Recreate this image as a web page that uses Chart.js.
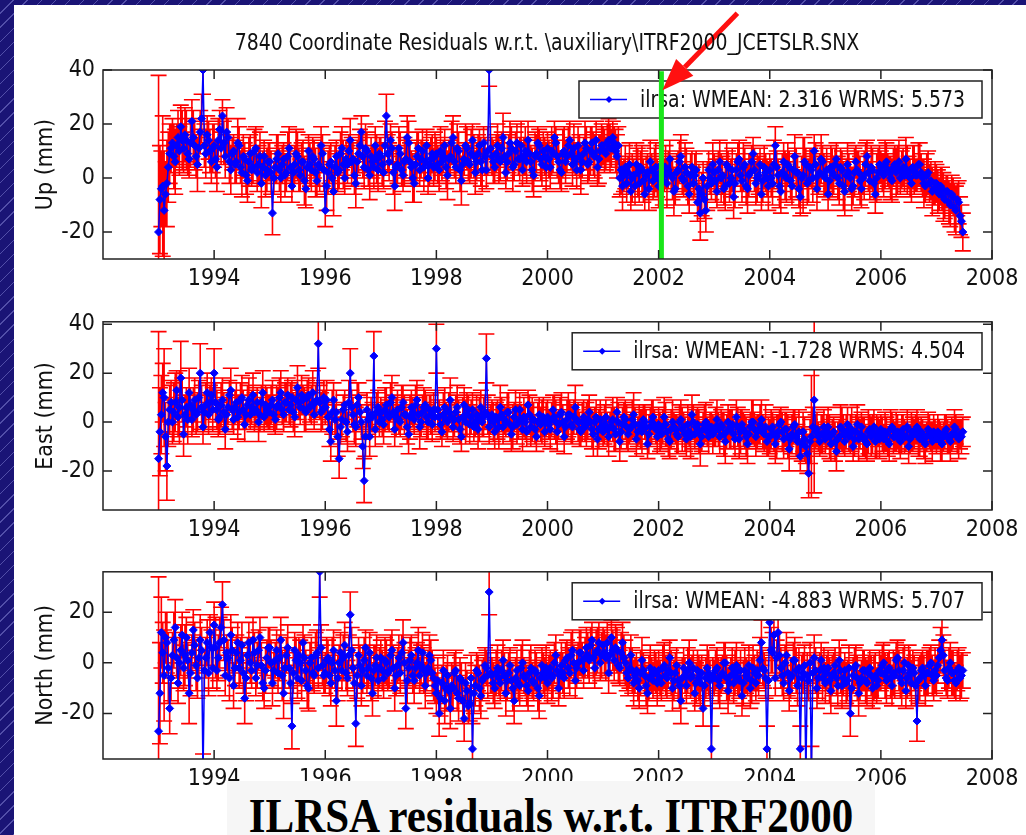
<!DOCTYPE html>
<html>
<head>
<meta charset="utf-8">
<title>ILRSA residuals w.r.t. ITRF2000</title>
<script src="https://cdn.jsdelivr.net/npm/chart.js@4.4.1/dist/chart.umd.min.js"></script>
<style>
  html, body { margin: 0; padding: 0; }
  body {
    width: 1026px; height: 835px; overflow: hidden; position: relative;
    background-color: #1a1476;
    background-image: repeating-linear-gradient(135deg, transparent 0 9px, rgba(150,150,230,0.45) 9px 10px);
  }
  #sheet { position: absolute; left: 14px; top: 5px; width: 1012px; height: 830px; background: #fff; }
  #sheet canvas { position: absolute; left: 0; }
  #plot-title {
    position: absolute; left: 0; top: 26px; width: 1066px; text-align: center;
    font: 21px 'Liberation Sans Narrow', 'DejaVu Sans Condensed', 'Liberation Sans', sans-serif;
    line-height: 24px; color: #111; white-space: nowrap;
    transform: scaleY(1.12); transform-origin: 50% 18px;
  }
  #caption { position: absolute; left: 213px; top: 776px; width: 648px; height: 54px; background: #f6f6f6; }
  #caption div {
    position: absolute; left: 0; top: 14px; width: 100%; text-align: center;
    font: bold 43px 'Liberation Serif', 'Times New Roman', serif; line-height: 46px; color: #000;
    transform: scaleY(1.12); transform-origin: 50% 37px; white-space: nowrap;
  }
</style>
</head>
<body>
<div id="sheet">
  <canvas id="upChart" width="1012" height="295" style="top:0"></canvas>
  <canvas id="eastChart" width="1012" height="250" style="top:295px"></canvas>
  <canvas id="northChart" width="1012" height="250" style="top:545px"></canvas>
  <div id="plot-title">7840 Coordinate Residuals w.r.t. \auxiliary\ITRF2000_JCETSLR.SNX</div>
  <div id="caption"><div>ILRSA residuals w.r.t. ITRF2000</div></div>
</div>
<script>
// one solution every 0.025 yr starting 1993.0 (40 per row = one year)
const firstEpoch = 1993.0;
const epochStep = 0.025;

const yearTicks = [1994, 1996, 1998, 2000, 2002, 2004, 2006, 2008];
const upTicks = [-20, 0, 20, 40];
const eastTicks = [-20, 0, 20, 40];
const northTicks = [-20, 0, 20];

const upLegend = "ilrsa: WMEAN: 2.316 WRMS: 5.573";
const eastLegend = "ilrsa: WMEAN: -1.728 WRMS: 4.504";
const northLegend = "ilrsa: WMEAN: -4.883 WRMS: 5.707";

// epoch of the marked solution change
const markYear = 2002.05;
const markTop = 39.5;
const arrowTipY = 32.5;

const up = [
  -20, -8, -4, -3, -12, -6, -2, 4, 9, 11, 13, 8, 6, 12, 15, 10, 19, 14, 11, 16, 14, 9, 7, 13, 21, 15, 12, 8, 5, 11, 17, 22, 40, 12, 9, 16, 14, 10, 6, 11,
  12, 7, 4, 14, 18, 11, 23, 13, 8, 17, 15, 6, 3, 9, 10, 5, 6, 13, 12, 4, 2, 8, 7, 1, -1, 6, 9, 3, 4, 10, 11, 2, 5, 8, -2, 4, 8, 1, 3, 6,
  6, 2, -13, 0, 4, 7, 9, 3, 0, 5, 7, 1, 2, 8, 11, 4, -3, 2, 5, 9, 8, 3, 1, 6, 6, -1, -4, 4, 10, 5, 3, 8, 7, 2, -1, 5, 4, 12, 9, 3,
  -12, -3, 2, 5, 6, 0, -5, 4, 8, 2, 3, 9, 11, 5, 0, 7, 5, 10, 14, 6, 7, 1, -2, 6, 9, 12, 17, 8, 4, 11, 10, 3, 1, 8, 6, 4, 12, 7, 3, 9,
  8, 5, 2, 12, 23, 9, 6, 14, 11, 2, -3, 4, 5, 11, 9, 3, 1, 6, 7, 15, 13, 6, 4, 0, -2, 5, 8, 11, 3, 7, 10, 4, 6, 12, 0, 5, 7, 9, 4, 8,
  9, 5, 3, 10, 6, 8, 12, 4, 1, 7, 8, 13, 15, 6, 4, 11, 10, 3, -1, 5, 7, 12, 11, 6, 5, 9, 14, 8, 2, 6, 9, 12, 6, 3, 13, 8, 3, 10, 40, 11,
  8, 6, 4, 9, 12, 7, 6, 11, 15, 8, 2, 6, 9, 13, 11, 4, 5, 10, 13, 7, 7, 12, 3, 8, 10, 6, 14, 9, 6, 3, 1, 8, 9, 13, 12, 7, 5, 10, 8, 4,
  11, 7, 4, 10, 9, 15, 13, 8, 6, 3, 2, 9, 10, 6, 8, 12, 14, 9, 5, 11, 7, 3, 12, 8, 3, 6, 9, 13, 11, 5, 6, 10, 13, 9, 8, 14, 4, 7, 10, 12,
  12, 10, 9, 13, 14, 11, 11, 15, 13, 10, 8, 12, 0, 3, -3, 1, 4, -2, 2, 5, -5, 0, 1, -3, 5, 2, -2, 4, 3, -1, -6, 1, 2, -4, 6, 3, -1, 2, 4, 0,
  -3, 2, 5, -1, 1, 4, -2, 3, 7, 1, 0, -5, -4, 2, 3, 6, 8, 0, -1, 4, 2, -3, -6, 1, 4, -2, 1, 3, -9, -4, -13, -6, 0, -8, -12, -3, 3, 0, -2, 5,
  2, -1, -5, 3, 6, 0, 1, -4, -3, 5, 4, -2, 0, 3, -7, -2, 3, 6, 7, 1, -1, 4, 5, -3, -4, 1, 2, 6, 9, 3, -2, 0, 1, 5, -6, -1, 4, 2, 0, -3,
  3, 0, -2, 5, 12, 4, 1, -3, -5, 2, 6, 1, 0, 5, 4, -1, -3, 3, 8, 2, 2, -4, -7, 0, 1, 6, 5, -2, -1, 4, 3, 0, 10, 5, -4, 1, 2, 7, 6, 1,
  0, 3, -6, -1, 4, 2, 1, 5, 7, 0, -2, 4, 3, -3, -5, 1, 5, 2, 0, -4, -3, 2, 6, 3, 2, -1, -4, 0, 1, 5, 8, 2, -1, 4, 3, -2, -6, 0, 2, 5,
  4, 2, 1, 5, 6, 3, 2, 0, -1, 4, 5, 2, 3, 6, 0, 3, 4, 1, 7, 3, 2, 0, -2, 4, 3, 1, 1, 5, 5, 2, 0, -2, -3, 1, 2, -2, -1, -5, -4, -2,
  -2, -5, -6, -3, -4, -7, -8, -5, -5, -9, -10, -6, -7, -11, -12, -8, -9, -14, -16, -20
];
const upErr = [
  58, 20, 14, 26, 22, 12, 16, 13, 11, 9, 9, 12, 12, 8, 10, 9, 8, 11, 9, 10, 11, 8, 7, 9, 8, 10, 9, 8, 10, 7, 8, 9, 9, 8, 9, 7, 7, 8, 8, 9,
  8, 7, 9, 8, 7, 6, 6, 8, 8, 9, 7, 8, 9, 6, 6, 7, 8, 9, 7, 6, 9, 8, 6, 7, 8, 9, 7, 6, 6, 8, 8, 7, 7, 9, 9, 6, 6, 8, 8, 7,
  7, 8, 8, 6, 6, 9, 7, 8, 9, 7, 6, 8, 7, 9, 8, 6, 6, 7, 7, 9, 9, 8, 6, 7, 8, 9, 7, 6, 6, 8, 8, 7, 7, 9, 6, 8, 9, 7, 7, 8,
  6, 9, 8, 7, 7, 6, 9, 8, 6, 7, 7, 8, 8, 9, 6, 7, 7, 6, 8, 9, 6, 7, 9, 8, 7, 6, 6, 8, 8, 9, 7, 6, 9, 7, 6, 8, 7, 9, 8, 6,
  7, 8, 6, 9, 8, 7, 7, 6, 6, 8, 9, 7, 7, 8, 8, 6, 6, 9, 7, 8, 8, 7, 6, 9, 7, 8, 9, 6, 6, 7, 8, 9, 7, 6, 6, 8, 8, 7, 7, 9,
  6, 7, 8, 9, 7, 6, 6, 8, 9, 7, 7, 8, 8, 6, 6, 9, 7, 8, 9, 7, 6, 8, 8, 7, 7, 9, 6, 8, 8, 7, 7, 6, 9, 8, 6, 7, 7, 9, 6, 8,
  7, 8, 6, 7, 8, 9, 7, 6, 9, 8, 6, 7, 7, 8, 8, 9, 6, 7, 7, 6, 8, 9, 6, 7, 9, 8, 7, 6, 6, 8, 8, 9, 7, 6, 6, 8, 8, 7, 7, 9,
  6, 7, 8, 9, 7, 6, 6, 8, 8, 7, 7, 9, 9, 8, 6, 7, 7, 6, 8, 9, 6, 7, 7, 8, 9, 6, 6, 8, 8, 7, 7, 9, 6, 8, 8, 7, 7, 9, 6, 8,
  7, 8, 6, 7, 8, 9, 7, 6, 6, 8, 8, 7, 7, 9, 9, 6, 8, 7, 6, 8, 7, 9, 6, 7, 8, 9, 7, 6, 9, 8, 6, 7, 7, 8, 8, 6, 7, 9, 9, 7,
  8, 7, 7, 9, 6, 8, 9, 7, 7, 6, 8, 9, 6, 7, 7, 8, 8, 6, 6, 9, 9, 7, 7, 8, 6, 6, 8, 7, 7, 9, 10, 8, 6, 7, 8, 9, 7, 6, 6, 8,
  7, 8, 6, 7, 8, 9, 7, 6, 9, 8, 6, 7, 7, 8, 8, 9, 6, 7, 7, 6, 8, 9, 6, 7, 9, 8, 7, 6, 6, 8, 8, 9, 7, 6, 6, 8, 8, 7, 7, 9,
  6, 7, 8, 9, 7, 6, 6, 8, 8, 7, 7, 9, 9, 8, 6, 7, 7, 6, 8, 9, 6, 7, 7, 8, 14, 9, 6, 8, 8, 7, 7, 9, 6, 8, 8, 7, 7, 9, 6, 8,
  7, 8, 6, 7, 8, 9, 7, 6, 6, 8, 8, 7, 7, 9, 9, 6, 8, 7, 6, 8, 7, 9, 6, 7, 8, 9, 7, 6, 9, 8, 6, 7, 7, 8, 8, 6, 7, 9, 9, 7,
  6, 7, 8, 9, 7, 6, 6, 8, 8, 7, 7, 9, 9, 8, 6, 7, 7, 6, 8, 9, 6, 7, 7, 8, 9, 6, 6, 8, 8, 7, 7, 9, 6, 8, 8, 7, 7, 9, 6, 8,
  7, 8, 6, 7, 8, 9, 7, 6, 6, 8, 8, 7, 7, 9, 9, 6, 8, 7, 6, 7
];

const east = [
  -15, -4, 3, 12, 10, -6, -18, 0, 5, 8, 0, 4, 8, 13, 2, 6, 18, 9, -5, 3, 6, 1, 12, 7, 1, 5, 9, 3, 4, 10, 20, 6, -2, 4, 7, 12, 3, 8, 11, 5,
  20, 8, 5, 1, 2, 7, 9, 4, -3, 3, 6, 11, 13, 5, 1, 6, 8, 2, 4, 9, 10, 5, -1, 3, 7, 9, 3, 6, 11, 4, 5, 8, 0, 3, 8, 12, 2, 7, 6, 4,
  4, 7, 9, 3, 1, 6, 7, 10, 12, 5, 3, 8, 8, 11, 5, 7, 10, 4, 2, 9, 14, 8, 6, 11, 9, 5, 4, 10, 11, 6, 7, 12, 3, 8, 9, 32, 8, 4, 5, 10,
  6, 9, 2, -3, -8, 4, 9, 1, 4, -6, -15, -2, 1, 5, 7, 0, -4, 8, 20, 6, 3, -1, -2, 7, 10, 4, 0, -10, -24, -6, 5, 1, -6, 3, 2, 27, -3, 4, 6, 0,
  4, 1, -1, 5, 7, 3, 2, 8, 10, 4, -3, 2, 5, 1, 0, 6, 8, 3, 3, -2, -5, 2, 6, 4, 1, 7, 9, 3, -2, 0, 4, 6, 7, 2, 0, 5, 3, -1, 5, 2,
  30, 5, 2, -1, -4, 3, 6, 1, 0, 4, 9, 2, -2, 1, 4, 6, 1, -3, -6, 2, 7, 0, 3, 5, -1, 2, 5, -2, 0, 3, -3, 1, 6, 0, 2, 4, 26, 3, -2, 1,
  3, 0, -4, 2, 1, -2, 6, 3, -2, 1, 0, 4, 4, -1, -5, -2, 2, 5, -1, 0, 5, 1, -3, 2, 0, -4, 7, 3, -2, 1, 1, -3, -6, 0, 3, -1, 0, 2, -4, 1,
  2, -1, -3, 1, 5, 2, 0, -4, -1, 3, 4, 0, -6, -2, 1, 3, 3, -1, -2, 2, 6, 1, 0, -3, -4, 0, 2, -2, -1, 1, 4, 0, -3, -5, 0, 2, -7, -3, 1, -2,
  -4, -1, 2, -3, -6, -2, 0, 1, -3, -5, 4, 0, -8, -4, -1, 2, 1, -2, -5, -3, -2, 1, 3, -1, -7, -4, -1, -3, -4, 1, 0, -2, -9, -5, -2, 0, 2, -1, -3, -6,
  -1, -4, -5, -2, 2, -1, -4, -7, -8, -3, 0, -2, -3, -5, -6, 0, 1, -3, -2, -5, -7, -1, -4, -6, 3, 0, -5, -2, -1, -4, -9, -6, -3, -1, 0, -4, -6, -2, -2, -5,
  -4, -2, 1, -3, -6, -1, -2, -5, -8, -4, 0, -3, -3, -1, -5, -7, 2, -2, -7, -4, -1, -3, -4, -6, -9, -5, -2, 0, 0, -3, -6, -4, -3, -1, 1, -4, -5, -2, -8, -6,
  -6, -3, -2, -5, -9, -6, -4, -1, 0, -4, -7, -3, -3, -6, -11, -7, -5, -2, -1, -6, -8, -4, -14, -9, -4, -7, -10, -13, -21, -8, -6, -2, 9, -4, -3, -6, -8, -5, -5, -2,
  -7, -4, -2, -6, -9, -5, -4, -8, -12, -7, -6, -2, -3, -5, -8, -4, -1, -6, -5, -3, -10, -7, -4, -1, -7, -5, -2, -6, -6, -8, -9, -4, -3, -6, -5, -2, -8, -6, -4, -7,
  -3, -5, -7, -4, -5, -8, -9, -3, -2, -6, -6, -4, -4, -7, -8, -5, -3, -6, -6, -2, -10, -7, -4, -5, -5, -3, -2, -6, -7, -4, -5, -8, -9, -6, -3, -4, -6, -8, -4, -5,
  -7, -4, -5, -8, -9, -6, -4, -3, -6, -7, -8, -5, -5, -2, -3, -6, -7, -5, -6, -4
];
const eastErr = [
  52, 18, 16, 12, 20, 14, 14, 10, 10, 9, 9, 12, 12, 8, 8, 15, 15, 9, 9, 8, 8, 10, 10, 7, 7, 9, 9, 8, 8, 7, 12, 9, 7, 8, 9, 8, 8, 7, 7, 9,
  10, 8, 8, 7, 7, 9, 9, 8, 8, 7, 7, 6, 9, 8, 6, 7, 8, 9, 7, 7, 9, 8, 7, 6, 8, 9, 6, 7, 9, 8, 7, 6, 8, 7, 7, 9, 6, 8, 8, 7,
  7, 8, 8, 7, 6, 9, 7, 8, 9, 6, 7, 8, 8, 7, 6, 9, 7, 8, 8, 6, 9, 7, 7, 8, 6, 9, 8, 7, 7, 6, 8, 9, 6, 7, 7, 10, 7, 8, 8, 7,
  7, 8, 6, 7, 8, 9, 7, 6, 9, 8, 8, 7, 7, 6, 6, 8, 8, 9, 10, 7, 7, 8, 8, 9, 6, 7, 7, 9, 9, 8, 7, 6, 8, 7, 6, 10, 7, 8, 7, 6,
  6, 7, 8, 9, 7, 6, 6, 8, 9, 7, 7, 8, 8, 6, 6, 9, 7, 8, 6, 7, 8, 9, 7, 6, 6, 8, 8, 7, 9, 6, 7, 8, 6, 9, 7, 6, 8, 7, 7, 6,
  10, 8, 7, 6, 6, 9, 8, 7, 7, 8, 9, 6, 6, 7, 7, 9, 8, 6, 6, 8, 7, 9, 9, 6, 8, 7, 7, 6, 6, 8, 8, 9, 7, 6, 8, 7, 10, 8, 7, 6,
  6, 8, 7, 6, 8, 9, 9, 7, 7, 6, 6, 8, 8, 7, 7, 9, 6, 8, 8, 7, 7, 6, 9, 8, 7, 6, 6, 8, 8, 9, 7, 6, 6, 8, 7, 7, 9, 8, 6, 7,
  7, 6, 8, 7, 6, 9, 9, 8, 6, 7, 8, 7, 7, 6, 8, 9, 6, 8, 7, 7, 9, 6, 8, 7, 6, 8, 7, 6, 9, 8, 7, 6, 8, 9, 6, 7, 7, 8, 8, 6,
  6, 8, 7, 7, 8, 6, 6, 9, 9, 7, 6, 8, 8, 7, 7, 6, 8, 9, 7, 6, 6, 8, 9, 7, 7, 6, 8, 8, 9, 6, 7, 7, 6, 8, 8, 9, 7, 6, 6, 7,
  7, 8, 6, 7, 8, 9, 6, 7, 7, 8, 9, 6, 6, 8, 7, 7, 8, 9, 6, 7, 7, 8, 6, 9, 8, 7, 6, 7, 7, 9, 9, 6, 7, 8, 8, 6, 7, 6, 6, 8,
  6, 8, 8, 7, 7, 6, 6, 9, 9, 7, 7, 8, 8, 6, 6, 7, 7, 8, 8, 9, 6, 7, 7, 8, 8, 6, 6, 9, 9, 7, 8, 7, 6, 8, 8, 7, 7, 9, 6, 8,
  7, 8, 6, 7, 8, 9, 7, 6, 6, 8, 8, 7, 7, 9, 9, 6, 8, 7, 6, 8, 7, 9, 6, 7, 8, 9, 7, 8, 10, 9, 25, 8, 38, 7, 7, 6, 6, 8, 8, 7,
  6, 7, 8, 9, 7, 6, 6, 8, 8, 7, 7, 9, 9, 8, 6, 7, 7, 6, 8, 9, 6, 7, 7, 8, 9, 6, 6, 8, 8, 7, 7, 9, 6, 8, 8, 7, 7, 9, 6, 8,
  6, 7, 6, 8, 7, 6, 7, 8, 6, 7, 6, 8, 7, 6, 7, 8, 6, 7, 6, 7, 7, 6, 8, 7, 6, 6, 7, 8, 7, 6, 6, 7, 8, 6, 7, 7, 6, 8, 7, 6,
  6, 7, 6, 8, 7, 6, 7, 6, 7, 6, 8, 7, 6, 7, 6, 7, 8, 6, 7, 6
];

const north = [
  -27, -12, 12, 4, -5, 10, 8, -2, -18, -6, 3, 9, 14, 2, -8, 0, 5, 11, -2, 3, 10, 1, -12, -4, 4, 13, 7, -1, -6, 2, 9, 5, -45, -3, 2, 8, -4, 12, 6, -2,
  15, 6, -3, 2, 8, 14, 23, 9, -5, 4, 2, -6, 11, 5, -9, -2, 4, 8, -2, 1, 7, -4, -14, -6, 3, 8, 0, -3, 9, 4, -6, -1, 5, 10, -1, -8, -10, -3, 2, 6,
  6, 0, -8, -3, 1, 5, -4, 2, 9, -5, -12, -2, 3, 6, -2, -8, -25, -4, 5, 1, -6, 3, 0, -7, 8, 2, -3, -9, -10, 0, 2, -4, -5, 3, 4, -2, 36, 6, -1, -5,
  -4, 1, 2, -5, -8, 0, 5, -3, -15, -6, 0, 4, -3, 2, 7, -4, -6, 3, 19, 5, -2, -8, -24, -5, 3, -1, -9, -3, 1, 6, -5, -2, 4, -6, -12, -3, -1, 2, -7, -2,
  2, -3, -6, 1, 0, -4, -3, 3, 5, -2, -10, -5, -1, 2, -4, 4, 8, 0, -18, -7, -2, 1, 3, -5, -7, -2, 0, 5, -5, -1, 4, -3, -9, -4, -2, 3, 1, -4, -6, -9,
  -12, -7, -20, -14, -8, -3, -15, -10, -5, -11, -18, -9, -10, -4, -3, -12, -14, -6, -7, -15, -22, -8, -11, -17, -16, -6, -34, -12, -9, -3, -4, -10, -13, -7, -6, -1, -2, -5, 28, -4,
  -5, -8, -10, -4, -2, -6, -8, -3, 1, -5, -12, -7, -4, -1, -7, -10, -15, -6, -3, -8, -9, -2, 0, -5, -6, -9, -11, -4, -2, -7, -8, -3, -4, -10, -13, -6, -1, -4, -6, -2,
  -8, -4, -2, -6, -5, 0, 3, -3, -10, -5, -1, -4, -6, 1, 2, -2, -4, 3, 5, 0, -7, -2, 0, 4, 4, 1, -3, 2, 6, 3, 1, 7, 9, 2, -2, 4, 5, 8, 0, 3,
  7, 4, 2, 8, -4, 3, 10, 5, 1, 6, 5, -1, -2, 4, 8, 2, 0, -4, -6, -2, 3, -3, -8, -5, -3, -7, -10, -4, 1, -3, -5, -9, -12, -6, -2, -5, -7, -3, -4, -8,
  -3, -6, -8, -2, -1, -5, -6, -3, 2, -4, -10, -7, -4, -1, -7, -9, -15, -6, -2, -5, -9, -3, 0, -6, -5, -2, -12, -8, -3, -6, -8, -4, -18, -9, -6, -2, -4, -7, -34, -5,
  -6, -3, -2, -7, -9, -5, -4, 0, 0, -6, -11, -8, -5, -2, -8, -4, -1, -6, -7, -3, -13, -8, -3, -5, -6, -1, -10, -7, -2, -4, -8, -3, -5, 1, 8, -2, -3, -6, -34, -7,
  16, 5, 4, 11, -6, 2, 12, 3, -2, -5, -8, 0, 3, -4, -11, -6, -5, 1, 1, -3, -9, -2, -34, -6, -4, -1, -45, -5, -7, 0, -45, -4, 2, -3, -10, -6, -3, 1, -6, -2,
  -8, -4, -2, -7, -11, -5, -4, -1, -6, -9, 1, -3, -9, -6, -3, -8, -7, -2, -20, -10, -5, -2, -1, -6, -12, -8, -6, -3, -3, -7, -8, -4, -2, -5, -10, -6, -5, -9, -7, -3,
  -4, -1, 0, -5, -7, -3, -2, -6, -9, -4, -5, 1, 2, -3, -6, -8, -3, 0, -11, -6, -1, -4, -8, -2, -4, -9, -23, -7, -6, -3, -2, -5, -9, -4, -4, -1, 0, -5, -7, -3,
  -5, -1, 2, 5, 9, 3, -3, -6, -7, -2, 0, -4, -4, -7, -8, -3, -2, -6, -5, -3
];
const northErr = [
  61, 20, 14, 12, 18, 10, 12, 14, 10, 9, 9, 11, 11, 8, 8, 10, 10, 9, 9, 12, 8, 7, 12, 9, 7, 8, 9, 10, 8, 8, 10, 9, 9, 8, 8, 9, 9, 7, 7, 8,
  9, 12, 8, 9, 10, 8, 9, 8, 8, 7, 7, 9, 8, 9, 9, 7, 7, 8, 8, 9, 9, 8, 10, 9, 7, 8, 8, 7, 9, 8, 7, 9, 8, 8, 9, 7, 8, 9, 7, 8,
  8, 9, 9, 7, 7, 8, 8, 9, 9, 10, 10, 8, 7, 9, 8, 7, 9, 8, 7, 9, 8, 7, 9, 8, 7, 9, 8, 9, 9, 8, 8, 7, 7, 9, 9, 8, 10, 9, 8, 7,
  8, 9, 7, 8, 9, 10, 8, 7, 10, 9, 7, 8, 8, 9, 9, 7, 7, 8, 9, 9, 8, 7, 9, 9, 7, 8, 8, 9, 9, 7, 7, 8, 8, 9, 9, 10, 8, 9, 7, 8,
  7, 8, 8, 9, 9, 7, 7, 8, 8, 9, 9, 8, 7, 9, 8, 7, 9, 8, 8, 9, 7, 9, 8, 7, 9, 8, 8, 9, 7, 8, 8, 9, 9, 7, 7, 8, 8, 9, 9, 7,
  8, 9, 9, 7, 7, 8, 9, 9, 8, 7, 8, 9, 9, 8, 8, 7, 9, 8, 7, 9, 9, 8, 8, 7, 7, 9, 10, 8, 8, 7, 7, 9, 9, 8, 8, 7, 7, 9, 9, 8,
  7, 8, 8, 9, 9, 7, 7, 8, 8, 9, 9, 8, 8, 7, 7, 9, 9, 8, 8, 7, 8, 9, 9, 7, 7, 8, 8, 9, 9, 7, 7, 8, 8, 9, 9, 7, 7, 8, 8, 9,
  8, 7, 7, 9, 9, 8, 8, 7, 7, 9, 9, 8, 8, 7, 7, 8, 9, 9, 8, 7, 7, 8, 8, 9, 9, 7, 7, 8, 8, 9, 9, 7, 7, 8, 8, 9, 9, 8, 7, 9,
  7, 9, 9, 8, 8, 7, 7, 8, 8, 9, 9, 7, 7, 8, 8, 9, 9, 7, 7, 8, 8, 9, 9, 7, 7, 8, 8, 9, 9, 7, 7, 8, 8, 9, 9, 7, 7, 8, 8, 9,
  8, 7, 7, 9, 9, 8, 8, 7, 7, 9, 9, 8, 8, 7, 7, 9, 9, 8, 8, 7, 7, 9, 9, 8, 8, 7, 7, 8, 8, 9, 9, 7, 7, 8, 8, 9, 9, 8, 9, 7,
  7, 8, 8, 9, 9, 7, 7, 8, 8, 9, 9, 7, 7, 8, 8, 9, 9, 7, 7, 8, 8, 9, 9, 7, 7, 8, 8, 9, 9, 7, 7, 8, 8, 9, 9, 7, 7, 8, 9, 8,
  10, 9, 8, 8, 7, 7, 9, 9, 8, 8, 7, 7, 9, 9, 8, 8, 7, 7, 9, 9, 8, 8, 9, 9, 8, 8, 12, 9, 8, 8, 12, 7, 9, 9, 8, 8, 7, 7, 9, 8,
  8, 7, 7, 9, 9, 8, 8, 7, 7, 8, 8, 9, 9, 7, 7, 8, 8, 9, 9, 7, 7, 8, 8, 9, 9, 7, 7, 8, 8, 9, 9, 7, 7, 8, 8, 9, 9, 7, 7, 8,
  7, 8, 8, 9, 9, 7, 7, 8, 8, 9, 9, 7, 7, 8, 8, 9, 9, 7, 7, 8, 8, 9, 9, 7, 7, 8, 8, 9, 9, 7, 7, 8, 8, 9, 9, 7, 7, 8, 8, 9,
  8, 7, 7, 9, 9, 8, 8, 7, 7, 8, 8, 9, 9, 7, 7, 8, 8, 9, 9, 7
];

const FONT = "'Liberation Sans Narrow', 'DejaVu Sans Condensed', 'Liberation Sans', sans-serif";
const INK = '#111';
const CAP = 8;      // half width of error bar caps
const TICK = 9;     // inward tick length

Chart.defaults.font.family = FONT;
Chart.defaults.font.size = 23;
Chart.defaults.color = INK;

function drawDiamond(ctx, x, y, r) {
  ctx.beginPath();
  ctx.moveTo(x, y - r); ctx.lineTo(x + r, y); ctx.lineTo(x, y + r); ctx.lineTo(x - r, y);
  ctx.closePath();
  ctx.fill();
}

function makePlugin(errs, legendText, withMarker) {
  return {
    id: 'residualFrame',
    beforeDatasetsDraw(chart) {
      // red error bars with caps, under the blue series
      const { ctx, chartArea: a, scales: { x, y } } = chart;
      const pts = chart.data.datasets[0].data;
      ctx.save();
      ctx.beginPath(); ctx.rect(a.left, a.top, a.width, a.height); ctx.clip();
      ctx.strokeStyle = '#ff0000';
      ctx.lineWidth = 1.6;
      ctx.beginPath();
      pts.forEach((p, i) => {
        const e = errs[i] || 0;
        const px = x.getPixelForValue(p.x);
        const hi = y.getPixelForValue(p.y + e);
        const lo = y.getPixelForValue(p.y - e);
        ctx.moveTo(px, hi); ctx.lineTo(px, lo);
        ctx.moveTo(px - CAP, hi); ctx.lineTo(px + CAP, hi);
        ctx.moveTo(px - CAP, lo); ctx.lineTo(px + CAP, lo);
      });
      ctx.stroke();
      ctx.restore();
    },
    afterDatasetsDraw(chart) {
      const { ctx, chartArea: a, scales: { x, y } } = chart;

      // legend box, top right inside the axes
      ctx.save();
      ctx.font = '21px ' + FONT;
      const tw = ctx.measureText(legendText).width;
      const w = 61 + tw + 17, h = 37;
      const x0 = a.right - 10 - w, y0 = a.top + 11;
      ctx.fillStyle = '#fff';
      ctx.fillRect(x0, y0, w, h);
      ctx.strokeStyle = '#222';
      ctx.lineWidth = 1.5;
      ctx.strokeRect(x0, y0, w, h);
      const ly = y0 + h / 2;
      ctx.strokeStyle = '#0000ff';
      ctx.beginPath(); ctx.moveTo(x0 + 11, ly); ctx.lineTo(x0 + 48, ly); ctx.stroke();
      ctx.fillStyle = '#0000ff';
      drawDiamond(ctx, x0 + 30, ly, 3.5);
      ctx.fillStyle = INK;
      ctx.textBaseline = 'middle';
      ctx.textAlign = 'left';
      // slightly taller glyphs, as in the rest of the figure
      ctx.translate(x0 + 61, ly + 1);
      ctx.scale(1, 1.12);
      ctx.fillText(legendText, 0, 0);
      ctx.restore();

      // green marker line at the solution change
      if (withMarker) {
        ctx.save();
        ctx.strokeStyle = '#19e619';
        ctx.lineWidth = 5;
        const gx = x.getPixelForValue(markYear);
        ctx.beginPath();
        ctx.moveTo(gx, y.getPixelForValue(markTop));
        ctx.lineTo(gx, a.bottom);
        ctx.stroke();
        ctx.restore();
      }

      // axes box with inward ticks on all four sides
      ctx.save();
      ctx.strokeStyle = '#222';
      ctx.lineWidth = 1.5;
      ctx.strokeRect(a.left, a.top, a.width, a.height);
      ctx.beginPath();
      x.ticks.forEach(t => {
        const px = x.getPixelForValue(t.value);
        ctx.moveTo(px, a.bottom); ctx.lineTo(px, a.bottom - TICK);
        ctx.moveTo(px, a.top); ctx.lineTo(px, a.top + TICK);
      });
      y.ticks.forEach(t => {
        const py = y.getPixelForValue(t.value);
        ctx.moveTo(a.left, py); ctx.lineTo(a.left + TICK, py);
        ctx.moveTo(a.right, py); ctx.lineTo(a.right - TICK, py);
      });
      ctx.stroke();
      ctx.restore();
    },
    afterDraw(chart) {
      if (!withMarker) return;
      // red arrow pointing at the marker line
      const { ctx, scales: { x, y } } = chart;
      const tx = x.getPixelForValue(markYear) + 1;
      const ty = y.getPixelForValue(arrowTipY);
      const sx = tx + 75, sy = ty - 77;
      const len = Math.hypot(tx - sx, ty - sy);
      const ux = (tx - sx) / len, uy = (ty - sy) / len;
      const bx = tx - ux * 32, by = ty - uy * 32;
      ctx.save();
      ctx.strokeStyle = '#ff1010';
      ctx.fillStyle = '#ff1010';
      ctx.lineWidth = 5;
      ctx.beginPath(); ctx.moveTo(sx, sy); ctx.lineTo(bx, by); ctx.stroke();
      ctx.beginPath();
      ctx.moveTo(tx, ty);
      ctx.lineTo(bx - uy * 12, by + ux * 12);
      ctx.lineTo(bx + uy * 12, by - ux * 12);
      ctx.closePath();
      ctx.fill();
      ctx.restore();
    }
  };
}

function makePanel(id, values, errs, cfg) {
  const points = values.map((v, i) => ({ x: firstEpoch + i * epochStep, y: v }));
  return new Chart(document.getElementById(id), {
    type: 'line',
    data: {
      datasets: [{
        label: 'ilrsa',
        data: points,
        borderColor: '#0000ff',
        borderWidth: 1.5,
        backgroundColor: '#0000ff',
        pointStyle: 'rectRot',
        pointRadius: 4,
        pointBorderWidth: 1,
        pointBackgroundColor: '#0000ff',
        pointBorderColor: '#0000ff',
        tension: 0
      }]
    },
    options: {
      responsive: false,
      animation: false,
      layout: { padding: { top: cfg.padTop, right: 34, bottom: 0, left: 0 } },
      plugins: { legend: { display: false }, tooltip: { enabled: false } },
      scales: {
        x: {
          type: 'linear', min: 1992, max: 2008,
          grid: { display: false, drawTicks: false }, border: { display: false },
          afterBuildTicks: s => { s.ticks = yearTicks.map(v => ({ value: v })); },
          afterFit: s => { s.height = cfg.axisH; },
          ticks: { callback: v => String(v), padding: 6, maxRotation: 0, autoSkip: false }
        },
        y: {
          type: 'linear', min: cfg.min, max: cfg.max,
          grid: { display: false, drawTicks: false }, border: { display: false },
          afterBuildTicks: s => { s.ticks = cfg.ticks.map(v => ({ value: v })); },
          afterFit: s => { s.width = 89; },
          title: { display: true, text: cfg.title, padding: { top: 18, bottom: 0 } },
          ticks: { padding: 8, callback: v => String(v) }
        }
      }
    },
    plugins: [makePlugin(errs, cfg.legend, cfg.marker)]
  });
}

makePanel('upChart', up, upErr, {
  padTop: 65, axisH: 41, min: -30, max: 40, ticks: upTicks,
  title: 'Up (mm)', legend: upLegend, marker: true
});
makePanel('eastChart', east, eastErr, {
  padTop: 20, axisH: 40, min: -36, max: 41, ticks: eastTicks,
  title: 'East (mm)', legend: eastLegend, marker: false
});
makePanel('northChart', north, northErr, {
  padTop: 20, axisH: 41, min: -38, max: 36, ticks: northTicks,
  title: 'North (mm)', legend: northLegend, marker: false
});
</script>
</body>
</html>
